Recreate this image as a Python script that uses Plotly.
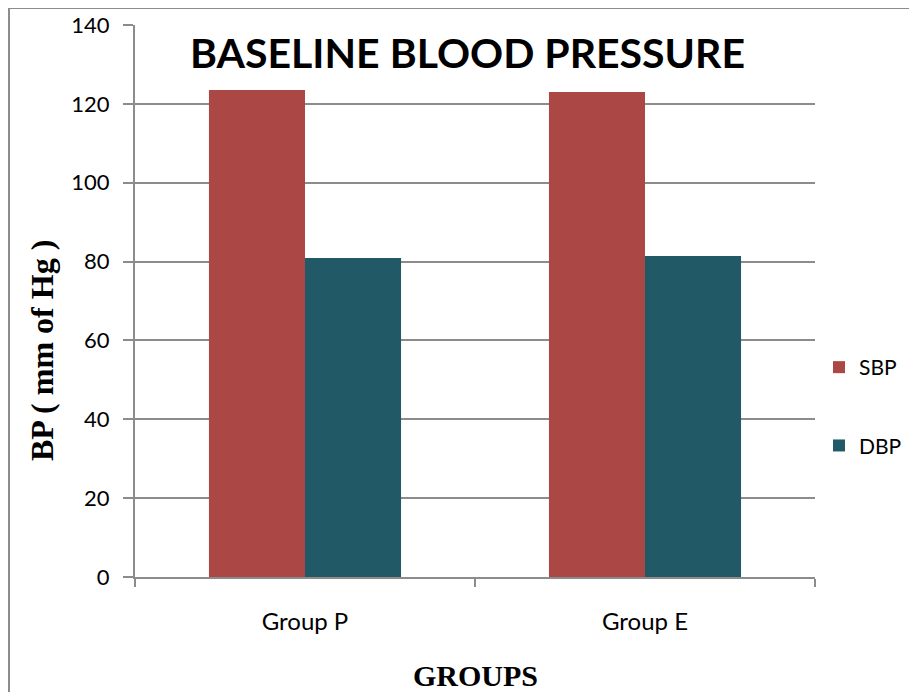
import plotly.graph_objects as go

groups = ["Group P", "Group E"]
sbp = [123.5, 123.0]
dbp = [80.9, 81.4]
y_ticks = [0, 20, 40, 60, 80, 100, 120, 140]

OFF = 8  # page body margin
W, H = 917 - OFF, 692 - OFF
L = 135 - OFF
T = 25 - OFF
R = W - (815 - OFF)
B = H - (577 - OFF)

fig = go.Figure()
fig.add_trace(go.Bar(name="SBP", x=groups, y=sbp, legendgroup="a",
                     marker=dict(color="#AB4745", line=dict(width=0))))
fig.add_trace(go.Bar(name="DBP", x=groups, y=dbp, legendgroup="b",
                     marker=dict(color="#225966", line=dict(width=0))))

pw = W - L - R
ph = H - T - B
def px(sx):
    return (sx - OFF - L) / pw
def py(sy):
    return (H - B - (sy - OFF)) / ph

gray = "#8C8C8C"
tickfont = "Lato, Open Sans, sans-serif"
serif = "Liberation Serif, Times New Roman, serif"
fig.update_layout(
    width=W, height=H,
    margin=dict(l=L, r=R, t=T, b=B, pad=0, autoexpand=False),
    paper_bgcolor="white", plot_bgcolor="white",
    barmode="group", bargap=0.435, bargroupgap=0,
    showlegend=True,
    legend=dict(x=px(819), y=py(347), xanchor="left", yanchor="top",
                font=dict(family=tickfont, size=21, color="black"),
                tracegroupgap=48, itemsizing="constant", itemwidth=30,
                bgcolor="rgba(0,0,0,0)"),
    xaxis=dict(showline=True, linecolor=gray, linewidth=2, tickson="boundaries",
               ticks="outside", ticklen=8, tickcolor=gray, tickwidth=2,
               ticklabelstandoff=22,
               tickfont=dict(family=tickfont, size=24, color="black")),
    yaxis=dict(range=[0, 140], tickvals=y_ticks, showline=True, linecolor=gray, linewidth=2,
               showgrid=True, gridcolor=gray, gridwidth=2, zeroline=False,
               ticks="outside", ticklen=10, tickcolor=gray, tickwidth=2,
               ticklabelstandoff=9,
               tickfont=dict(family=tickfont, size=22, color="black")),
)

fig.add_annotation(text="<b>BASELINE BLOOD PRESSURE</b>", xref="paper", yref="paper",
                   x=px(467), y=py(52), xanchor="center", yanchor="middle", showarrow=False,
                   font=dict(family="Liberation Sans Narrow, Arial Narrow, Lato, sans-serif", size=41, color="black"))
fig.add_annotation(text="<b>BP ( mm of Hg )</b>", xref="paper", yref="paper",
                   x=px(42), y=py(350), xanchor="center", yanchor="middle", showarrow=False,
                   textangle=-90, font=dict(family=serif, size=32, color="black"))
fig.add_annotation(text="<b>GROUPS</b>", xref="paper", yref="paper",
                   x=px(475), y=py(675), xanchor="center", yanchor="middle", showarrow=False,
                   font=dict(family=serif, size=30, color="black"))

fig.add_shape(type="line", xref="paper", yref="paper", x0=px(9), y0=py(8), x1=px(930), y1=py(8),
              line=dict(color=gray, width=2))
fig.add_shape(type="line", xref="paper", yref="paper", x0=px(9), y0=py(8), x1=px(9), y1=py(710),
              line=dict(color=gray, width=2))

fig.write_html("out.html")
